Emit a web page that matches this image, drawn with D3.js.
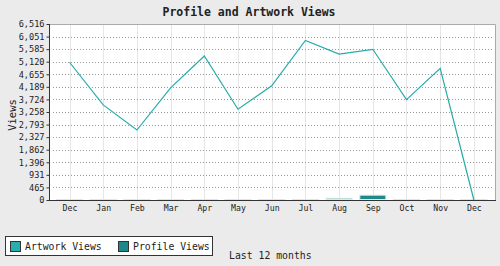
<!DOCTYPE html>
<html>
<head>
<meta charset="utf-8">
<script src="https://cdn.jsdelivr.net/npm/d3@7/dist/d3.min.js"></script>
<style>
  html, body { margin: 0; padding: 0; background: #ebebeb; }
  svg { display: block; }
  text { font-family: "DejaVu Sans Mono", "Liberation Mono", monospace; fill: #222; }
</style>
</head>
<body>
<svg id="chart" width="500" height="266"></svg>
<script>
const months = ["Dec","Jan","Feb","Mar","Apr","May","Jun","Jul","Aug","Sep","Oct","Nov","Dec"];
const artworkViews = [5100, 3520, 2590, 4150, 5330, 3360, 4230, 5910, 5405, 5580, 3715, 4875, 0];
const profileViews = [0, 0, 0, 0, 0, 0, 0, 0, 45, 160, 0, 0, 0];
const yTickLabels = ["0","465","931","1,396","1,862","2,327","2,793","3,258","3,724","4,189","4,655","5,120","5,585","6,051","6,516"];
const yMax = 6516;

const svg = d3.select("#chart");
const pL = 49, pR = 495, pT = 24, pB = 200;

const idx = months.map((m, i) => i);
const x = d3.scalePoint().domain(idx).range([69.5, 473.9]);
const y = d3.scaleLinear().domain([0, yMax]).range([pB, pT]);
const yTicks = yTickLabels.map((t, i) => yMax * i / (yTickLabels.length - 1));

// background plot
svg.append("rect").attr("x", pL).attr("y", pT).attr("width", pR - pL).attr("height", pB - pT)
  .attr("fill", "#fff");

// vertical grid
svg.append("g").selectAll("line").data(idx).join("line")
  .attr("x1", d => Math.round(x(d)) + 0.5).attr("x2", d => Math.round(x(d)) + 0.5)
  .attr("y1", pT).attr("y2", pB)
  .attr("stroke", "#e6e6e6").attr("stroke-width", 1);

// horizontal dotted grid
svg.append("g").selectAll("line").data(yTicks.slice(1, -1)).join("line")
  .attr("x1", 53).attr("x2", 493)
  .attr("y1", d => Math.round(y(d)) + 0.5).attr("y2", d => Math.round(y(d)) + 0.5)
  .attr("stroke", "#9a9a9a").attr("stroke-width", 1).attr("stroke-dasharray", "1,2");

// top & right frame
svg.append("path")
  .attr("d", `M${pL},${pT + 0.5}H${pR + 0.5}V${pB}`)
  .attr("fill", "none").attr("stroke", "#aaa").attr("stroke-width", 1);

// bars
const bw = 26;
svg.append("g").selectAll("rect").data(idx).join("rect")
  .attr("x", d => x(d) - bw / 2)
  .attr("y", d => y(profileViews[d]) - 0.5)
  .attr("width", bw)
  .attr("height", d => Math.max(0.5, pB - y(profileViews[d])))
  .attr("fill", "#1f8888")
  .attr("stroke", d => profileViews[d] > 0 ? "#d8ecec" : "#e4e4e4")
  .attr("stroke-width", 1);

// line
svg.append("path").datum(idx)
  .attr("d", d3.line().x(d => x(d)).y(d => y(artworkViews[d])))
  .attr("fill", "none").attr("stroke", "#26abab").attr("stroke-width", 1.2);

// y axis
const yAxis = d3.axisLeft(y).tickValues(yTicks)
  .tickFormat((d, i) => yTickLabels[i]).tickSize(3).tickPadding(2);
const gy = svg.append("g").attr("transform", `translate(${pL + 0.5},0)`).call(yAxis);
gy.select(".domain").attr("stroke", "#333").attr("d", `M0,${pT}V${pB + 0.5}`);
gy.selectAll(".tick line").attr("stroke", "#333");
gy.selectAll("text").attr("font-size", 8.6).attr("font-family", "DejaVu Sans Mono").attr("fill", "#222");

// x axis
const xAxis = d3.axisBottom(x).tickFormat(d => months[d]).tickSize(0).tickPadding(5);
const gx = svg.append("g").attr("transform", `translate(0,${pB + 0.5})`).call(xAxis);
gx.select(".domain").attr("stroke", "#333").attr("d", `M${pL},0H${pR + 1}`);
gx.selectAll("text").attr("font-size", 8.2).attr("font-family", "DejaVu Sans Mono").attr("fill", "#222");

// title
svg.append("text").attr("x", 249).attr("y", 16).attr("text-anchor", "middle")
  .attr("font-size", 11.5).attr("font-weight", "bold").text("Profile and Artwork Views");

// y label
svg.append("text").attr("transform", "translate(16,115) rotate(-90)").attr("text-anchor", "middle")
  .attr("font-size", 10.5).text("Views");

// legend
const lg = svg.append("g");
lg.append("rect").attr("x", 5.5).attr("y", 236.5).attr("width", 207).attr("height", 19)
  .attr("fill", "#fff").attr("stroke", "#333").attr("stroke-width", 1);
const legendItems = [["Artwork Views", "#2aadad", 10.5], ["Profile Views", "#1f8888", 118.5]];
legendItems.forEach(([label, col, lx]) => {
  lg.append("rect").attr("x", lx).attr("y", 241.5).attr("width", 10).attr("height", 10)
    .attr("fill", col).attr("stroke", "#333").attr("stroke-width", 1);
  lg.append("text").attr("x", lx + 14.5).attr("y", 250).attr("font-size", 9.8).text(label);
});

svg.append("text").attr("x", 229).attr("y", 259).attr("font-size", 9.8).text("Last 12 months");
</script>
</body>
</html>
